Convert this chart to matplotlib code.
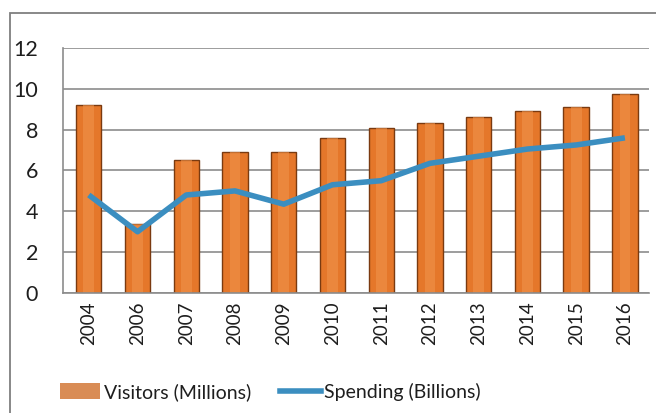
import matplotlib
matplotlib.use("Agg")
import matplotlib.pyplot as plt
from matplotlib.patches import Rectangle
from matplotlib.lines import Line2D
import numpy as np

plt.rcParams['font.family'] = ['Lato', 'DejaVu Sans']

years = ['2004', '2006', '2007', '2008', '2009', '2010',
         '2011', '2012', '2013', '2014', '2015', '2016']
visitors = [9.2, 3.4, 6.5, 6.9, 6.9, 7.6, 8.1, 8.35, 8.6, 8.9, 9.1, 9.75]   # millions
spending = [4.8, 3.0, 4.8, 5.0, 4.35, 5.3, 5.5, 6.35, 6.7, 7.05, 7.25, 7.6]  # billions

bar_color = '#E5772A'
bar_edge = '#7A3A10'
line_color = '#3B8EC0'
grid_color = '#8C8C8C'
text_color = '#1E1E1E'

fig = plt.figure(figsize=(6.56, 4.13), dpi=100)
ax = fig.add_axes([0.096, 0.2906, 0.893, 0.5932])

x = np.arange(len(years))
ax.bar(x, visitors, width=0.52, color=bar_color, edgecolor=bar_edge,
       linewidth=1.0, zorder=2)
# lighter stripe down the middle of each bar for the rounded look
ax.bar(x, visitors, width=0.22, color='#F0924A', linewidth=0, zorder=2.1,
       alpha=0.6)
ax.plot(x, spending, color=line_color, linewidth=4.0, solid_joinstyle='round',
        solid_capstyle='butt', zorder=3)

ax.set_xlim(-0.53, 11.49)
ax.set_ylim(0, 12)
ax.set_yticks(range(0, 13, 2))
ax.yaxis.grid(True, color=grid_color, linewidth=1.2)
ax.set_axisbelow(True)

ax.set_xticks(x)
ax.set_xticklabels(years, rotation=90, fontsize=13.5, color=text_color)
ax.tick_params(axis='x', length=0, pad=6)
ax.tick_params(axis='y', length=0, pad=18, labelsize=15.5, labelcolor=text_color)

for side in ['top', 'right']:
    ax.spines[side].set_visible(False)
ax.spines['left'].set_color(grid_color)
ax.spines['bottom'].set_color(grid_color)
ax.spines['left'].set_linewidth(1.2)
ax.spines['bottom'].set_linewidth(1.2)

# chart frame running off the right and bottom edges
fig.patches.append(Rectangle((10 / 656, -0.1), 1.0, (413 - 13) / 413 + 0.1,
                             transform=fig.transFigure, fill=False,
                             edgecolor='#7F7F7F', linewidth=1.3))

handles = [Rectangle((0, 0), 1, 1, facecolor='#D98C55', edgecolor='none'),
           Line2D([], [], color=line_color, linewidth=4)]
leg = fig.legend(handles, ['Visitors (Millions)', 'Spending (Billions)'],
                 loc='center', bbox_to_anchor=(0.412, (413 - 392) / 413), ncol=2,
                 frameon=False, fontsize=14, handlelength=2.1, handleheight=0.9,
                 handletextpad=0.2, columnspacing=1.45)
for t in leg.get_texts():
    t.set_color(text_color)

fig.savefig('out.png', dpi=100)
